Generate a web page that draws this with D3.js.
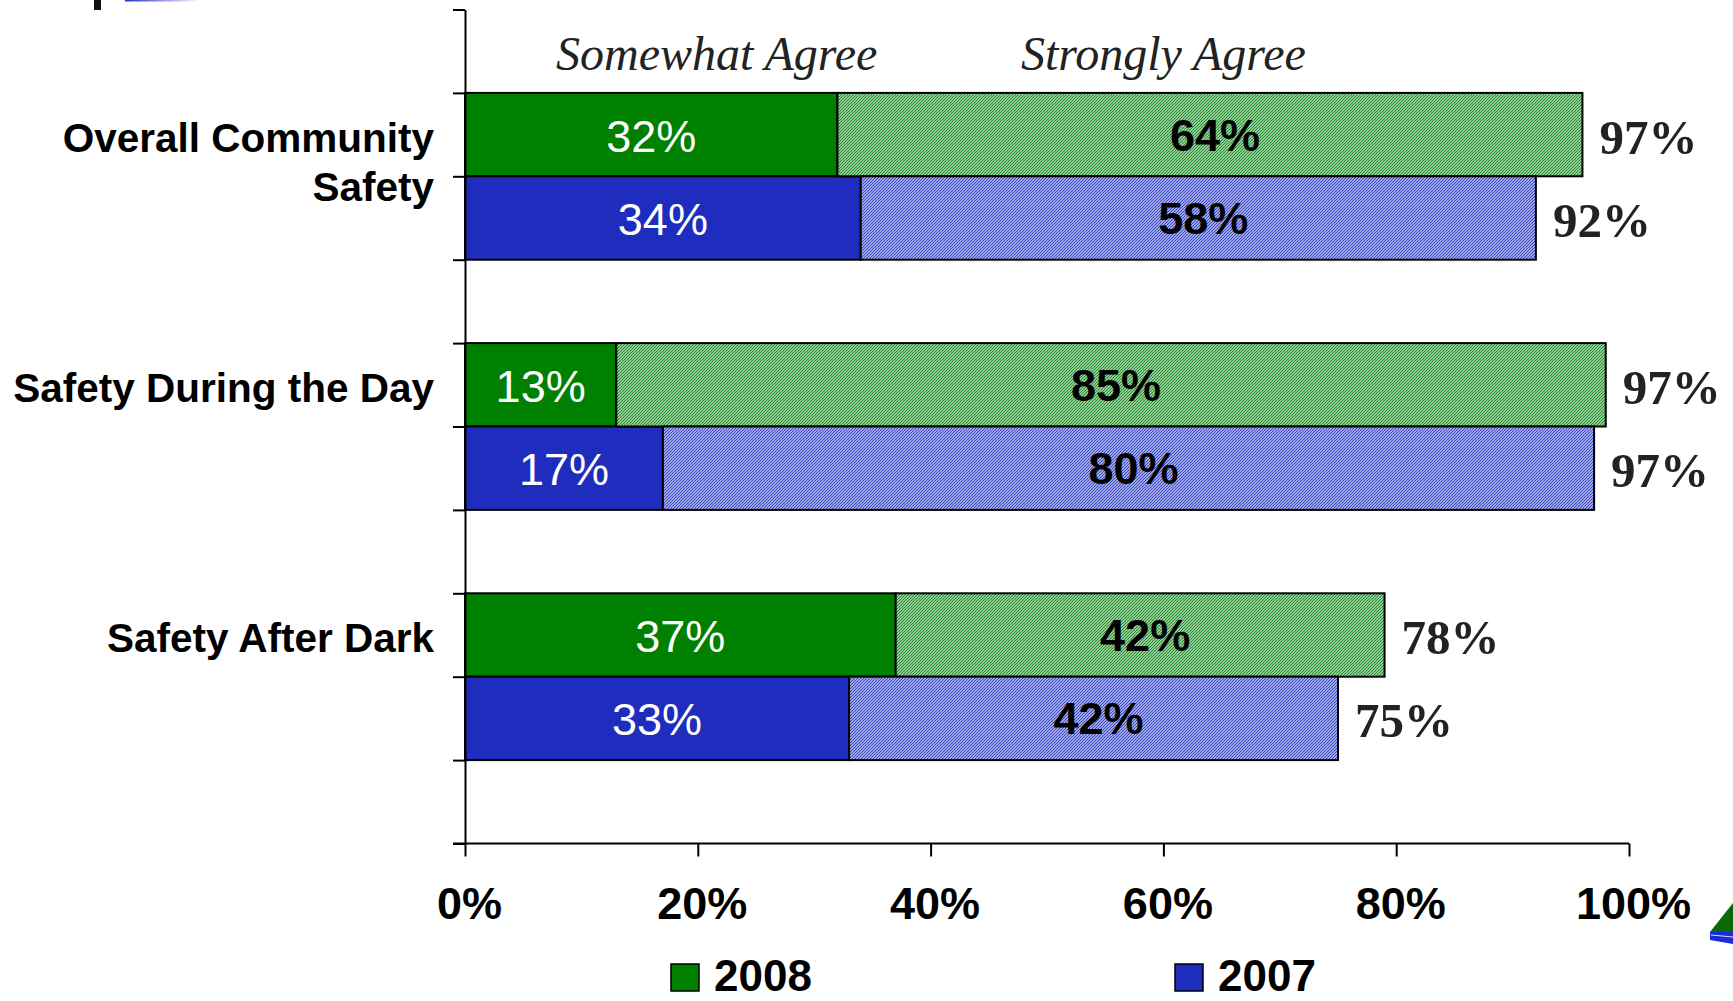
<!DOCTYPE html>
<html>
<head>
<meta charset="utf-8">
<script src="https://cdn.jsdelivr.net/npm/d3@7"></script>
<style>
  body { margin: 0; background: #fff; }
  svg { display: block; }
  .sans { font-family: 'Liberation Sans', Arial, sans-serif; }
  .serif { font-family: 'Liberation Serif', 'Times New Roman', serif; }
</style>
</head>
<body>
<div id="chart"></div>
<script>
// data
const categories = ['Overall Community Safety', 'Safety During the Day', 'Safety After Dark'];
const categoryLines = [['Overall Community', 'Safety'], ['Safety During the Day'], ['Safety After Dark']];
const years = ['2008', '2007'];
const somewhat2008 = [32, 13, 37];
const strongly2008 = [64, 85, 42];
const somewhat2007 = [34, 17, 33];
const strongly2007 = [58, 80, 42];
const total2008 = [97, 97, 78];
const total2007 = [92, 97, 75];
const segmentNames = ['Somewhat Agree', 'Strongly Agree'];
const xTicks = [0, 20, 40, 60, 80, 100];

const colors = { '2008': '#008000', '2007': '#1e2dbe' };
const hatchColors = { '2008': '#22902a', '2007': '#3848c8' };

const W = 1733, H = 1001;
const svg = d3.select('#chart').append('svg').attr('width', W).attr('height', H);

// hatch patterns
const defs = svg.append('defs');
years.forEach(yr => {
  const p = defs.append('pattern')
    .attr('id', 'hatch' + yr)
    .attr('patternUnits', 'userSpaceOnUse')
    .attr('width', 3)
    .attr('height', 3);
  p.append('rect').attr('width', 3).attr('height', 3).attr('fill', '#fff');
  p.append('path')
    .attr('d', 'M-1,1 L1,-1 M0,3 L3,0 M2,4 L4,2')
    .attr('stroke', hatchColors[yr])
    .attr('stroke-width', 1.4);
});

const x = d3.scaleLinear().domain([0, 100]).range([465, 1629]);
const y0 = d3.scaleBand().domain(categories).range([9.5, 843.5]).paddingInner(1 / 3).paddingOuter(1 / 3);
const y1 = d3.scaleBand().domain(years).range([0, y0.bandwidth()]);
const ySlot = d3.scaleLinear().domain([0, 10]).range(y0.range());

const rows = [];
categories.forEach((c, i) => {
  rows.push({ cat: c, year: '2008', s: somewhat2008[i], t: strongly2008[i], total: total2008[i] });
  rows.push({ cat: c, year: '2007', s: somewhat2007[i], t: strongly2007[i], total: total2007[i] });
});
const rowY = d => y0(d.cat) + y1(d.year);
const rowC = d => rowY(d) + y1.bandwidth() / 2;

// bars
const g = svg.append('g');
g.selectAll('rect.solid').data(rows).enter().append('rect')
  .attr('class', 'solid')
  .attr('x', x(0))
  .attr('y', rowY)
  .attr('width', d => x(d.s) - x(0))
  .attr('height', y1.bandwidth())
  .attr('fill', d => colors[d.year])
  .attr('stroke', '#000')
  .attr('stroke-width', 2);
g.selectAll('rect.hatch').data(rows).enter().append('rect')
  .attr('class', 'hatch')
  .attr('x', d => x(d.s))
  .attr('y', rowY)
  .attr('width', d => x(d.s + d.t) - x(d.s))
  .attr('height', y1.bandwidth())
  .attr('fill', d => 'url(#hatch' + d.year + ')')
  .attr('stroke', '#000')
  .attr('stroke-width', 2);

// value labels
g.selectAll('text.sval').data(rows).enter().append('text')
  .attr('class', 'sans')
  .attr('x', d => (x(0) + x(d.s)) / 2)
  .attr('y', d => rowC(d) + 17)
  .attr('text-anchor', 'middle')
  .attr('fill', '#fff')
  .style('font-size', '45px')
  .text(d => d.s + '%');
g.selectAll('text.tval').data(rows).enter().append('text')
  .attr('class', 'sans')
  .attr('x', d => (x(d.s) + x(d.s + d.t)) / 2 + 5)
  .attr('y', d => rowC(d) + 16)
  .attr('text-anchor', 'middle')
  .attr('fill', '#000')
  .style('font-size', '45px')
  .style('font-weight', 'bold')
  .text(d => d.t + '%');
g.selectAll('text.total').data(rows).enter().append('text')
  .attr('class', 'serif')
  .attr('x', d => x(d.s + d.t) + 17)
  .attr('y', d => rowC(d) + 19)
  .attr('fill', '#222')
  .style('font-size', '49px')
  .style('font-weight', 'bold')
  .text(d => d.total + '%');

// axes
const yAxis = svg.append('g')
  .attr('transform', `translate(${x(0)},0)`)
  .call(d3.axisLeft(ySlot).tickValues(d3.range(11)).tickSize(12).tickSizeOuter(0).tickFormat(''));
yAxis.selectAll('path, line').attr('stroke', '#000').attr('stroke-width', 2);

const xAxis = svg.append('g')
  .attr('transform', `translate(0,${ySlot(10)})`)
  .call(d3.axisBottom(x).tickValues(xTicks).tickSize(13).tickSizeOuter(0).tickFormat(d => d + '%'));
xAxis.select('.domain').remove();
xAxis.append('line')
  .attr('x1', x(0) - 12).attr('x2', x(100))
  .attr('stroke', '#000').attr('stroke-width', 2);
xAxis.selectAll('line').attr('stroke', '#000').attr('stroke-width', 2);
xAxis.selectAll('text')
  .attr('class', 'sans')
  .attr('y', 75)
  .attr('dy', 0)
  .attr('dx', 4)
  .attr('fill', '#000')
  .style('font-size', '45px')
  .style('font-weight', 'bold');

// category labels
categories.forEach((c, i) => {
  const cy = y0(c) + y1('2008') + y1.bandwidth() / 2;
  const t = svg.append('text')
    .attr('class', 'sans')
    .attr('text-anchor', 'end')
    .attr('fill', '#000')
    .style('font-size', '40.5px')
    .style('font-weight', 'bold');
  categoryLines[i].forEach((line, k) => {
    t.append('tspan').attr('x', 434).attr('y', cy + 17 + k * 49).text(line);
  });
});

// segment headers
const headerX = [556, 1021];
segmentNames.forEach((s, i) => {
  svg.append('text')
    .attr('class', 'serif')
    .attr('x', headerX[i])
    .attr('y', 70)
    .attr('fill', '#222')
    .style('font-size', '48px')
    .style('font-style', 'italic')
    .text(s);
});

// legend (kept just inside the bottom edge)
const legendX = [671, 1175];
years.forEach((yr, i) => {
  svg.append('rect')
    .attr('x', legendX[i]).attr('y', 964)
    .attr('width', 28).attr('height', 27)
    .attr('fill', colors[yr])
    .attr('stroke', '#000').attr('stroke-width', 1.5);
  svg.append('text')
    .attr('class', 'sans')
    .attr('x', legendX[i] + 43)
    .attr('y', 991)
    .attr('fill', '#000')
    .style('font-size', '44px')
    .style('font-weight', 'bold')
    .text(yr);
});

// slide leftovers at the edges
const grad = defs.append('linearGradient').attr('id', 'topline');
grad.append('stop').attr('offset', 0).attr('stop-color', '#2a2ad0');
grad.append('stop').attr('offset', 1).attr('stop-color', '#fff');
svg.append('rect').attr('x', 125).attr('y', 0).attr('width', 75).attr('height', 1.5).attr('fill', 'url(#topline)');
svg.append('rect').attr('x', 94).attr('y', 0).attr('width', 7).attr('height', 10).attr('fill', '#111');
svg.append('path').attr('d', 'M1710,932 L1733,903 L1733,932 Z').attr('fill', '#0a6a0a');
svg.append('path').attr('d', 'M1710,932 L1733,932 L1733,944 L1710,940 Z').attr('fill', '#1a2ad8');
svg.append('path').attr('d', 'M1711,935 L1733,937').attr('stroke', '#cfd6ff').attr('stroke-width', 1.2);
</script>
</body>
</html>
